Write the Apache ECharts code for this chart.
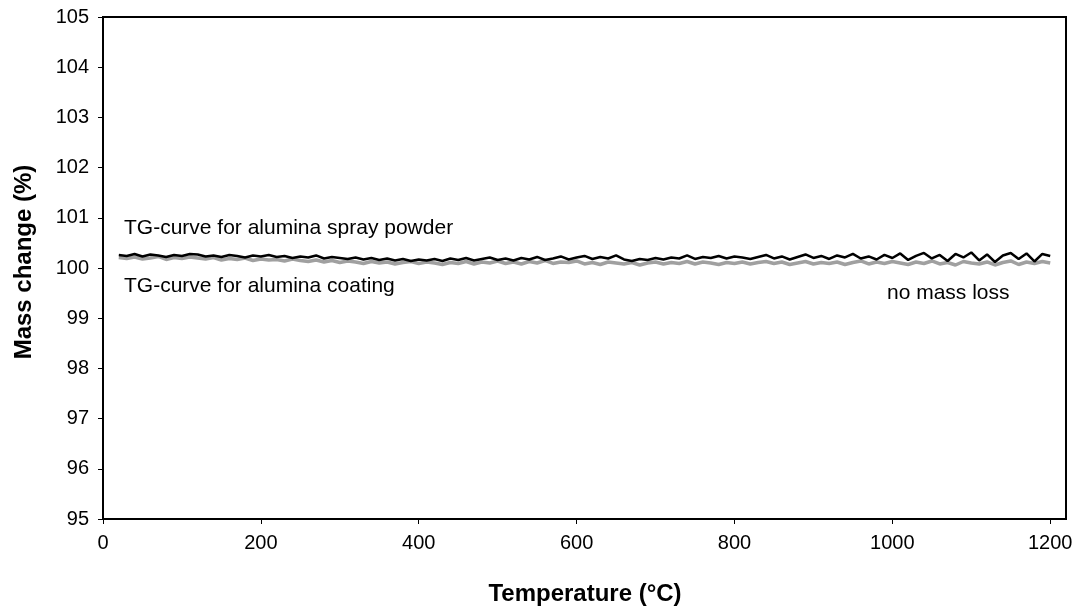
<!DOCTYPE html>
<html>
<head>
<meta charset="utf-8">
<script src="https://cdn.jsdelivr.net/npm/echarts@6/dist/echarts.min.js"></script>
<style>
  html,body{margin:0;padding:0;background:#fff;}
  #chart{width:1080px;height:606px;}
</style>
</head>
<body>
<div id="chart"></div>
<script>
// temperature (°C), one reading every 10 °C
var temps = [20,30,40,50,60,70,80,90,100,110,
  120,130,140,150,160,170,180,190,200,210,
  220,230,240,250,260,270,280,290,300,310,
  320,330,340,350,360,370,380,390,400,410,
  420,430,440,450,460,470,480,490,500,510,
  520,530,540,550,560,570,580,590,600,610,
  620,630,640,650,660,670,680,690,700,710,
  720,730,740,750,760,770,780,790,800,810,
  820,830,840,850,860,870,880,890,900,910,
  920,930,940,950,960,970,980,990,1000,1010,
  1020,1030,1040,1050,1060,1070,1080,1090,1100,1110,
  1120,1130,1140,1150,1160,1170,1180,1190,1200];

// TG-curve for alumina spray powder (black)
var powderMass = [100.26,100.24,100.28,100.23,100.27,100.25,100.22,100.26,100.24,100.28,
  100.27,100.23,100.25,100.22,100.26,100.24,100.21,100.25,100.23,100.26,
  100.22,100.24,100.20,100.23,100.21,100.25,100.19,100.22,100.20,100.18,
  100.21,100.17,100.20,100.16,100.19,100.15,100.18,100.14,100.17,100.15,
  100.18,100.14,100.19,100.16,100.20,100.15,100.18,100.21,100.16,100.19,
  100.15,100.20,100.17,100.22,100.16,100.19,100.23,100.17,100.21,100.24,
  100.18,100.22,100.19,100.25,100.17,100.14,100.18,100.16,100.20,100.17,
  100.21,100.19,100.25,100.18,100.22,100.20,100.24,100.19,100.23,100.21,
  100.18,100.22,100.26,100.19,100.23,100.17,100.22,100.27,100.20,100.24,
  100.18,100.25,100.21,100.28,100.19,100.23,100.17,100.26,100.20,100.29,
  100.16,100.24,100.30,100.19,100.26,100.14,100.28,100.21,100.31,100.15,
  100.27,100.12,100.25,100.30,100.18,100.29,100.13,100.28,100.24];

// TG-curve for alumina coating (grey)
var coatingMass = [100.21,100.19,100.22,100.18,100.20,100.23,100.17,100.21,100.19,100.22,
  100.20,100.18,100.21,100.16,100.19,100.17,100.20,100.15,100.18,100.16,
  100.17,100.14,100.18,100.15,100.13,100.16,100.12,100.15,100.11,100.14,
  100.12,100.09,100.13,100.10,100.12,100.08,100.11,100.13,100.09,100.12,
  100.10,100.07,100.11,100.09,100.13,100.08,100.12,100.10,100.14,100.09,
  100.12,100.08,100.13,100.10,100.15,100.09,100.12,100.11,100.14,100.08,
  100.11,100.07,100.12,100.10,100.08,100.11,100.06,100.10,100.12,100.08,
  100.11,100.09,100.13,100.08,100.12,100.10,100.07,100.11,100.09,100.12,
  100.08,100.11,100.13,100.09,100.12,100.07,100.10,100.13,100.08,100.11,
  100.09,100.12,100.07,100.11,100.14,100.08,100.12,100.09,100.13,100.10,
  100.07,100.12,100.09,100.14,100.08,100.11,100.06,100.13,100.10,100.08,
  100.12,100.06,100.11,100.14,100.07,100.12,100.09,100.13,100.10];

var xTicks = [0,200,400,600,800,1000,1200];

function pairs(xs, ys){
  var out = [];
  for (var i = 0; i < xs.length; i++) out.push([xs[i], ys[i]]);
  return out;
}

var font = 'Liberation Sans, Arial, sans-serif';
var chart = echarts.init(document.getElementById('chart'));
chart.setOption({
  animation: false,
  backgroundColor: '#fff',
  grid: {left: 103, right: 14, top: 17, bottom: 87, show: true, borderColor: '#000', borderWidth: 2},
  xAxis: {
    type: 'value', min: 0, max: 1220,
    axisLine: {show: true, lineStyle: {color: '#000', width: 2}},
    axisTick: {show: true, length: 5, lineStyle: {color: '#000'}, customValues: xTicks},
    axisLabel: {color: '#000', fontSize: 20, fontFamily: font, margin: 14, customValues: xTicks,
      formatter: function(v){ return String(v); }},
    splitLine: {show: false}
  },
  yAxis: {
    type: 'value', min: 95, max: 105, interval: 1,
    axisLine: {show: true, lineStyle: {color: '#000', width: 2}},
    axisTick: {show: true, length: 5, lineStyle: {color: '#000'}},
    axisLabel: {color: '#000', fontSize: 20, fontFamily: font, margin: 14},
    splitLine: {show: false}
  },
  series: [
    {
      name: 'TG-curve for alumina coating', type: 'line', symbol: 'none',
      data: pairs(temps, coatingMass),
      lineStyle: {color: '#a0a0a0', width: 3.5}, z: 2
    },
    {
      name: 'TG-curve for alumina spray powder', type: 'line', symbol: 'none',
      data: pairs(temps, powderMass),
      lineStyle: {color: '#000', width: 2.5}, z: 3
    }
  ],
  graphic: [
    {type: 'text', left: 124, top: 218, style: {text: 'TG-curve for alumina spray powder', font: '21px ' + font, fill: '#000'}},
    {type: 'text', left: 124, top: 276, style: {text: 'TG-curve for alumina coating', font: '21px ' + font, fill: '#000'}},
    {type: 'text', left: 887, top: 283, style: {text: 'no mass loss', font: '21px ' + font, fill: '#000'}},
    {type: 'text', x: 24, y: 262, rotation: Math.PI / 2,
      style: {text: 'Mass change (%)', font: 'bold 24px ' + font, fill: '#000', align: 'center', verticalAlign: 'middle'}},
    {type: 'text', x: 585, y: 594,
      style: {text: 'Temperature (°C)', font: 'bold 24px ' + font, fill: '#000', align: 'center', verticalAlign: 'middle'}}
  ]
});
</script>
</body>
</html>
